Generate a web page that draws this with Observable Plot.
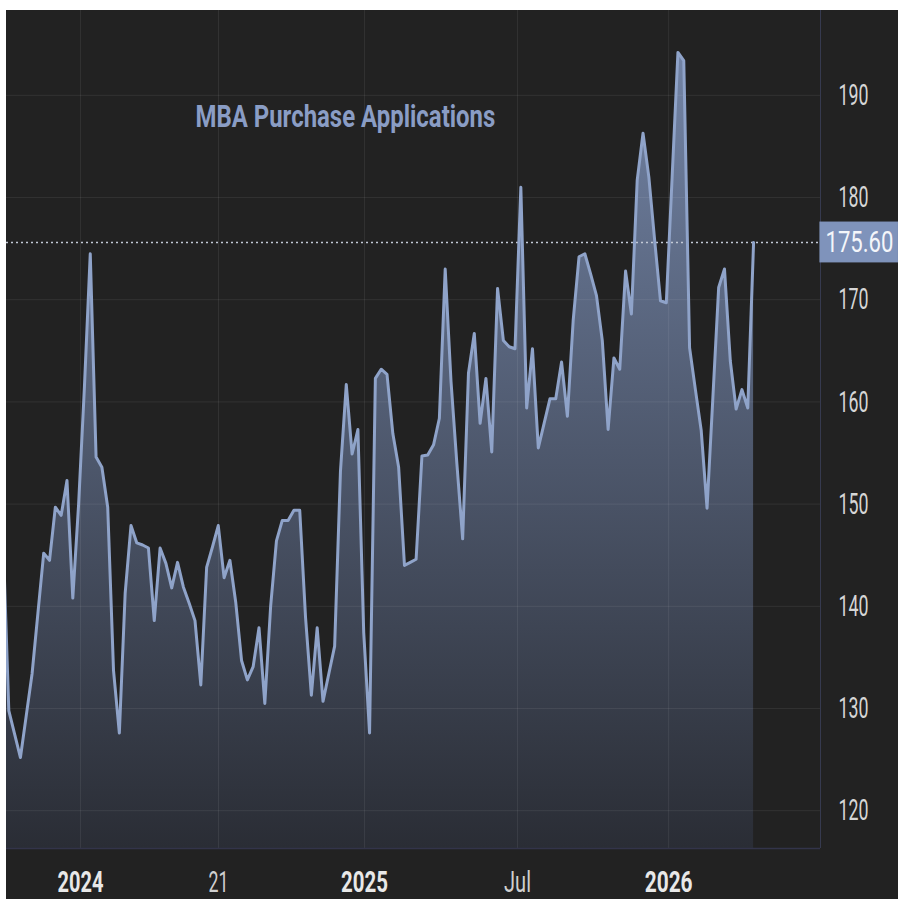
<!DOCTYPE html>
<html>
<head>
<meta charset="utf-8">
<script src="https://cdn.jsdelivr.net/npm/d3@7"></script>
<script src="https://cdn.jsdelivr.net/npm/@observablehq/plot@0.6"></script>
<style>
  html, body { margin: 0; padding: 0; background: #ffffff; }
  #wrap { position: absolute; left: 6px; top: 10px; width: 892px; height: 889px; background: #222222; overflow: hidden; }
</style>
</head>
<body>
<div id="wrap"></div>
<script>
// ---- Data (weekly MBA Purchase Index) ----
const values = [147, 129.8, 127.5, 125.2, 129.3, 133.4, 139.3, 145.2, 144.5, 149.7,
  148.9, 152.3, 140.8, 150.0, 161.5, 174.5, 154.6, 153.6, 149.7, 133.7,
  127.6, 141.3, 147.9, 146.2, 146.0, 145.7, 138.6, 145.7, 144.2, 141.8,
  144.3, 141.9, 140.3, 138.6, 132.3, 143.8, 145.8, 147.9, 142.8, 144.5,
  140.4, 134.7, 132.8, 134.1, 137.9, 130.5, 140.0, 146.4, 148.4, 148.4,
  149.4, 149.4, 138.9, 131.3, 137.9, 130.7, 133.4, 136.1, 153.2, 161.7,
  154.9, 157.3, 137.4, 127.6, 162.3, 163.2, 162.7, 156.9, 153.6, 144.0,
  144.3, 144.6, 154.7, 154.8, 155.8, 158.4, 173.0, 162.0, 154.0, 146.6,
  162.8, 166.7, 157.9, 162.3, 155.1, 171.1, 166.0, 165.4, 165.2, 181.0,
  159.4, 165.2, 155.5, 157.9, 160.3, 160.3, 163.9, 158.6, 168.0, 174.2,
  174.5, 172.5, 170.4, 166.0, 157.3, 164.3, 163.2, 172.8, 168.6, 181.7,
  186.3, 182.0, 175.8, 169.9, 169.7, 182.0, 194.2, 193.4, 165.3, 161.2,
  157.2, 149.6, 160.4, 171.2, 173.0, 164.0, 159.3, 161.2, 159.4, 175.6];

const xTickWeeks = [13.32, 37.04, 62.14, 88.43, 114.4];
const xTickLabels = ["2024", "21", "2025", "Jul", "2026"];
const xTickIsYear = [true, false, true, false, true];
const yTicks = [120, 130, 140, 150, 160, 170, 180, 190];
const lastValue = 175.60;
const title = "MBA Purchase Applications";

// ---- scale configuration ----
const xDomain = [0.605, 140.5];
const yDomain = [116.3, 198.3];
const xLabelEnd = 153.9;

const data = values.map((v, i) => ({week: i, value: v}));
const xTicks = xTickWeeks.map((w, i) => ({week: w, label: xTickLabels[i], year: xTickIsYear[i]}));

const font = "Roboto, 'DejaVu Sans', sans-serif";
const grid = "rgba(255,255,255,0.075)";

const plot = Plot.plot({
  width: 892,
  height: 889,
  marginLeft: 0,
  marginRight: 78,
  marginTop: 0,
  marginBottom: 51,
  style: {background: "#222222", fontFamily: font, overflow: "visible"},
  x: {domain: xDomain, axis: null},
  y: {domain: yDomain, axis: null},
  marks: [
    Plot.areaY(data, {x: "week", y1: yDomain[0], y2: "value", fill: "url(#mbaGrad)", clip: true}),
    Plot.ruleY(yTicks, {stroke: grid, strokeWidth: 1}),
    Plot.ruleX(xTickWeeks, {stroke: grid, strokeWidth: 1}),
    Plot.ruleY([lastValue], {stroke: "#c3c9d6", strokeWidth: 1.3, strokeDasharray: "2,3"}),
    Plot.lineY(data, {x: "week", y: "value", stroke: "#8fa3c9", strokeWidth: 3, strokeLinejoin: "round", clip: true}),
    Plot.ruleX([xDomain[1]], {stroke: "#363a4f", strokeWidth: 1}),
    Plot.ruleY([yDomain[0]], {stroke: "#33344a", strokeWidth: 1.5}),
    // right axis labels
    Plot.text(yTicks, {x: xDomain[1], y: d => d, dx: 18, text: d => String(d), textAnchor: "start",
      lineAnchor: "middle", fill: "#d6d6d6", fontSize: 30}),
    // last value badge
    Plot.rect([lastValue], {x1: xDomain[1] - 0.1, x2: xLabelEnd, y1: d => d - 2.0, y2: d => d + 2.0, fill: "#7f93bb"}),
    Plot.text([lastValue], {x: xDomain[1], y: d => d, dx: 5, text: d => d.toFixed(2), textAnchor: "start",
      lineAnchor: "middle", fill: "#f4f6fa", fontSize: 30}),
    // bottom axis labels
    Plot.text(xTicks.filter(d => d.year), {x: "week", y: yDomain[0], dy: 43, text: "label", lineAnchor: "bottom",
      fill: "#e8e8e8", fontSize: 30, fontWeight: "bold"}),
    Plot.text(xTicks.filter(d => !d.year), {x: "week", y: yDomain[0], dy: 43, text: "label", lineAnchor: "bottom",
      fill: "#d0d0d0", fontSize: 30}),
    // title
    Plot.text([title], {frameAnchor: "top-left", dx: 189, dy: 116, text: d => d, textAnchor: "start",
      lineAnchor: "bottom", fill: "#8a9dc5", fontSize: 32, fontWeight: "bold"})
  ]
});

// gradient for the area
const svg = d3.select(plot);
const defs = svg.insert("defs", ":first-child");
const grad = defs.append("linearGradient").attr("id", "mbaGrad")
  .attr("gradientUnits", "userSpaceOnUse").attr("x1", 0).attr("x2", 0).attr("y1", 0).attr("y2", 838);
grad.append("stop").attr("offset", 0).attr("stop-color", "#7688ab");
grad.append("stop").attr("offset", 1).attr("stop-color", "#2a2d35");

document.getElementById("wrap").appendChild(plot);

// condensed lettering: squeeze each text horizontally about its anchor
const widthFor = {"175.60": 68, "2024": 46, "21": 20, "2025": 47, "Jul": 27, "2026": 48};
widthFor[title] = 300;
yTicks.forEach(t => widthFor[String(t)] = 30);
svg.selectAll("text").each(function() {
  const w = widthFor[this.textContent];
  if (!w) return;
  const natural = this.getComputedTextLength();
  if (!natural) return;
  const sx = w / natural;
  const ax = +(this.getAttribute("x") || 0);
  const t = this.getAttribute("transform") || "";
  this.setAttribute("transform", `${t} translate(${ax},0) scale(${sx},1) translate(${-ax},0)`);
});
</script>
</body>
</html>
